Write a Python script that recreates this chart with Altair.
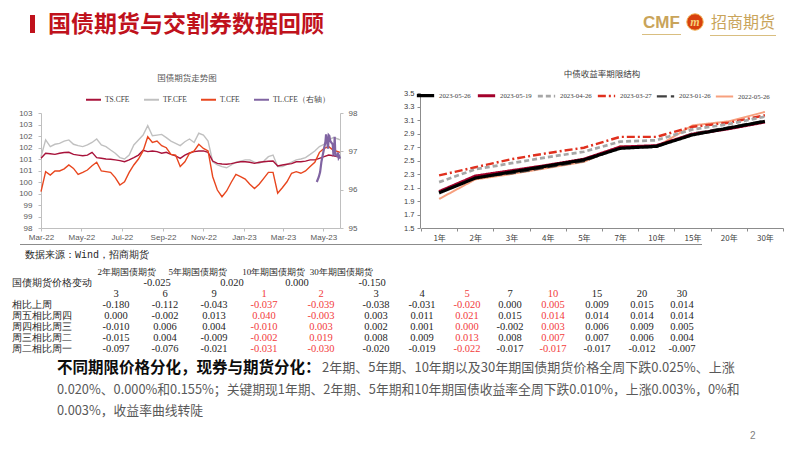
import altair as alt
import pandas as pd

W, H = 786, 435
CJK = "Noto Sans CJK SC"
SERIF = "Liberation Serif"

# ---------------- left chart: 国债期货走势图 ----------------
week_dates = list(pd.date_range("2022-03-01", periods=65, freq="7D").strftime("%Y-%m-%dT00:00:00")) + ["2023-05-26T00:00:00"]

ts_cfe = [101.03, 101.25, 101.23, 101.20, 101.25, 101.28, 101.29, 101.20, 101.17, 101.14,
          101.17, 101.29, 101.06, 101.03, 101.00, 100.99, 100.96, 100.93, 100.88, 100.96,
          101.06, 101.17, 101.38, 101.32, 101.35, 101.32, 101.25, 101.29, 101.20, 101.14,
          101.03, 101.17, 101.26, 101.32, 101.35, 101.35, 101.29, 100.91, 100.81, 100.78,
          100.77, 100.80, 100.84, 100.88, 100.88, 100.86, 100.81, 100.86, 100.88, 100.90,
          100.91, 100.70, 100.74, 100.77, 100.80, 100.88, 100.88, 100.91, 100.96, 100.96,
          101.03, 101.10, 101.17, 101.14, 101.09, 101.06]
tf_cfe = [101.10, 101.83, 101.54, 101.64, 101.68, 101.78, 101.83, 101.64, 101.58, 101.54,
          101.61, 101.72, 101.87, 101.61, 101.54, 101.39, 101.25, 101.06, 101.00, 101.17,
          101.61, 101.83, 102.04, 102.45, 102.01, 102.04, 102.07, 101.93, 101.78, 101.68,
          101.58, 101.75, 101.87, 101.72, 102.12, 102.04, 101.78, 100.88, 100.74, 100.67,
          100.62, 100.74, 100.86, 100.91, 100.96, 100.96, 100.86, 100.81, 100.91, 101.10,
          101.17, 100.67, 100.67, 100.77, 100.86, 100.96, 101.00, 101.06, 101.20, 101.35,
          101.54, 101.64, 101.83, 101.93, 101.87, 101.83]
t_cfe = [99.58, 100.45, 100.30, 100.48, 100.48, 100.57, 100.74, 100.59, 100.33, 100.42,
         100.52, 100.71, 100.86, 100.48, 100.45, 100.42, 100.19, 99.87, 100.01, 100.42,
         100.74, 101.00, 101.35, 101.97, 101.72, 101.78, 101.58, 101.49, 101.20, 101.17,
         100.67, 100.88, 101.25, 101.35, 101.64, 101.46, 101.35, 100.23, 99.65, 99.36,
         99.61, 99.99, 100.33, 100.23, 100.13, 99.90, 99.72, 99.90, 100.16, 100.42,
         100.42, 99.51, 99.75, 100.01, 100.38, 100.45, 100.38, 100.48, 100.67, 100.86,
         101.29, 101.46, 101.54, 101.38, 101.32, 101.29]
tl_dates = ["2023-04-21", "2023-04-24", "2023-04-26", "2023-04-28", "2023-05-04", "2023-05-05",
            "2023-05-08", "2023-05-09", "2023-05-10", "2023-05-11", "2023-05-12", "2023-05-15",
            "2023-05-16", "2023-05-17", "2023-05-18", "2023-05-19", "2023-05-22", "2023-05-23",
            "2023-05-24", "2023-05-25", "2023-05-26"]
tl_cfe = [96.20, 96.33, 96.46, 96.73, 97.25, 97.44, 97.07, 97.42, 97.40, 97.29, 97.25, 97.18,
          96.94, 96.97, 97.38, 96.90, 96.88, 96.97, 96.83, 96.86, 96.81]

left_names = ["TS.CFE", "TF.CFE", "T.CFE", "TL.CFE（右轴）"]
left_colors = ["#A8123A", "#C0C0C0", "#E8461E", "#8064A2"]

# ---------------- right chart: 中债收益率期限结构 ----------------
tenors = ["1年", "2年", "3年", "4年", "5年", "7年", "10年", "15年", "20年", "30年"]
curve_names = ["2023-05-26", "2023-05-19", "2023-04-26", "2023-03-27", "2023-01-26", "2022-05-26"]
curve_20230526 = [2.02, 2.24, 2.33, 2.42, 2.51, 2.68, 2.71, 2.88, 2.98, 3.08]
curve_20230519 = [2.04, 2.27, 2.35, 2.43, 2.52, 2.70, 2.72, 2.89, 2.97, 3.07]
curve_20230426 = [2.18, 2.37, 2.46, 2.55, 2.63, 2.78, 2.80, 2.96, 3.04, 3.15]
curve_20230327 = [2.28, 2.40, 2.52, 2.61, 2.69, 2.85, 2.85, 3.00, 3.06, 3.17]
curve_20230126 = [2.03, 2.25, 2.31, 2.40, 2.49, 2.69, 2.70, 2.90, 2.99, 3.09]
curve_20220526 = [1.93, 2.22, 2.30, 2.39, 2.48, 2.71, 2.70, 3.02, 3.08, 3.22]
curve_colors = ["#000000", "#A3002B", "#A6A6A6", "#E0301E", "#404040", "#F7A07E"]
curve_widths = [3.2, 2.0, 1.2, 1.6, 1.4, 1.2]
curve_dashes = [[1, 0], [1, 0], [5, 3], [8, 3, 2, 3], [10, 4], [1, 0]]

# ---------------- table ----------------
futures = ["2年期国债期货", "5年期国债期货", "10年期国债期货", "30年期国债期货"]
future_change = [-0.025, 0.020, 0.000, -0.150]
term_labels = ["3", "6", "9", "1", "2", "3", "4", "5", "7", "10", "15", "20", "30"]
red_columns = [3, 4, 7, 9]
row_names = ["国债期货价格变动", "相比上周", "周五相比周四", "周四相比周三", "周三相比周二", "周二相比周一"]
changes = [
    [-0.180, -0.112, -0.043, -0.037, -0.039, -0.038, -0.031, -0.020, 0.000, 0.005, 0.009, 0.015, 0.014],
    [0.000, -0.002, 0.013, 0.040, -0.003, 0.003, 0.011, 0.021, 0.015, 0.014, 0.014, 0.014, 0.014],
    [-0.010, 0.006, 0.004, -0.010, 0.003, 0.002, 0.001, 0.000, -0.002, 0.003, 0.006, 0.009, 0.005],
    [-0.015, 0.004, -0.009, -0.002, 0.019, 0.008, 0.009, 0.013, 0.008, 0.007, 0.007, 0.006, 0.004],
    [-0.097, -0.076, -0.021, -0.031, -0.030, -0.020, -0.019, -0.022, -0.017, -0.017, -0.017, -0.012, -0.007],
]
# layout of the table (pixel centres of the Excel columns / rows)
col_px = [108, 157, 206, 256, 313, 368, 414, 459, 502, 545, 589, 634, 674]
future_pos = [0.22, 1.67, 3.17, 4.37]
change_pos = [0.84, 2.36, 3.58, 4.93]

# ---------------- build frames ----------------
left_df = pd.concat([
    pd.DataFrame({"date": week_dates, "value": tf_cfe, "series": "TF.CFE"}),
    pd.DataFrame({"date": week_dates, "value": ts_cfe, "series": "TS.CFE"}),
    pd.DataFrame({"date": week_dates, "value": t_cfe, "series": "T.CFE"}),
], ignore_index=True)
tl_df = pd.DataFrame({"date": [d + "T00:00:00" for d in tl_dates], "value": tl_cfe, "series": "TL.CFE（右轴）"})

curves = [curve_20230526, curve_20230519, curve_20230426, curve_20230327, curve_20230126, curve_20220526]
right_df = pd.concat(
    [pd.DataFrame({"tenor": tenors, "yield": c, "curve": n}) for n, c in list(zip(curve_names, curves))[::-1]],
    ignore_index=True)

cells = []
for r, vals in enumerate(changes):
    for c, v in enumerate(vals):
        cells.append({"col": c, "row": r + 3, "text": f"{v:.3f}", "hl": "r" if c in red_columns else "n"})
for c, t in enumerate(term_labels):
    cells.append({"col": c, "row": 2, "text": t, "hl": "r" if c in red_columns else "n"})
for p, v in zip(change_pos, future_change):
    cells.append({"col": p, "row": 1, "text": f"{v:.3f}", "hl": "n"})
cells_df = pd.DataFrame(cells)
head_df = pd.DataFrame({"col": future_pos, "row": [0] * 4, "text": futures})
rowlab_df = pd.DataFrame({"row": [1, 3, 4, 5, 6, 7], "text": row_names})

one = pd.DataFrame({"k": [0]})


def txt(s, x, y, size, color="#262626", font=CJK, weight="normal", align="left", **kw):
    return alt.Chart(one).mark_text(text=s, fontSize=size, color=color, font=font, fontWeight=weight,
                                    align=align, baseline="middle", **kw).encode(x=alt.value(x), y=alt.value(y))


def hrule(x1, x2, y, color, w):
    return alt.Chart(one).mark_rule(color=color, strokeWidth=w).encode(
        x=alt.value(x1), x2=alt.value(x2), y=alt.value(y))


axis_common = dict(grid=False, title=None, labelFont="Liberation Sans", labelColor="#595959",
                   domainColor="#BFBFBF", tickColor="#BFBFBF", tickSize=3)

# ---- left chart ----
x_left_scale = alt.Scale(domain=[alt.DateTime(year=2022, month=3, date=1), alt.DateTime(year=2023, month=5, date=26)],
                         range=[33, 332], nice=False)
month_ticks = [alt.DateTime(year=y, month=m, date=1) for y, m in
               [(2022, 3), (2022, 5), (2022, 7), (2022, 9), (2022, 11), (2023, 1), (2023, 3), (2023, 5)]]
left_legend = alt.Legend(orient="none", legendX=77, legendY=83, direction="horizontal", columns=4,
                         symbolType="stroke", symbolSize=225, symbolStrokeWidth=2, labelFont="Liberation Serif",
                         labelFontSize=7.5, labelColor="#404040", columnPadding=10, labelOffset=3, title=None,
                         padding=0)
left_color = alt.Color("series:N", scale=alt.Scale(domain=left_names, range=left_colors), legend=left_legend)

left_main = alt.Chart(left_df).mark_line(strokeWidth=1.4).encode(
    x=alt.X("date:T", scale=x_left_scale,
            axis=alt.Axis(orient="bottom", offset=-(H - 220), values=month_ticks, format="%b-%y",
                          labelFontSize=8, labelPadding=2, labelFlush=False, **axis_common)),
    y=alt.Y("value:Q", scale=alt.Scale(domain=[98, 103], range=[220, 105], nice=False, zero=False),
            axis=alt.Axis(orient="left", offset=-33, values=[98 + 0.5 * k for k in range(11)], format=".0f",
                          labelFontSize=8, labelPadding=6, **axis_common)),
    color=left_color,
    detail="series:N",
)
tl_line = alt.Chart(tl_df).mark_line(strokeWidth=2.2).encode(
    x=alt.X("date:T", scale=x_left_scale, axis=None),
    y=alt.Y("value:Q", scale=alt.Scale(domain=[95, 98], range=[220, 105], nice=False, zero=False),
            axis=alt.Axis(orient="right", offset=-(W - 332), values=[95, 96, 97, 98], format=".0f",
                          labelFontSize=8, labelPadding=5, **axis_common)),
    color=left_color,
)
left_chart = alt.layer(left_main, tl_line).resolve_scale(x="independent", y="independent")

# ---- right chart ----
right_legend = alt.Legend(orient="none", legendX=407, legendY=77, direction="horizontal", columns=6,
                          symbolType="stroke", symbolSize=300, labelFont="Liberation Serif", labelFontSize=6.8,
                          labelColor="#404040", columnPadding=0, labelOffset=3, title=None, padding=0,
                          labelLimit=60)
right_chart = alt.Chart(right_df).mark_line().encode(
    x=alt.X("tenor:N", sort=tenors,
            scale=alt.Scale(domain=tenors, range=[413, 775], paddingInner=0, paddingOuter=0),
            axis=alt.Axis(orient="bottom", offset=-(H - 220), tickBand="extent", labelAngle=0,
                          grid=False, title=None, labelFont=CJK, labelFontSize=8, labelColor="#404040",
                          domainColor="#8C8C8C", tickColor="#8C8C8C", tickSize=3, labelPadding=3)),
    y=alt.Y("yield:Q", scale=alt.Scale(domain=[1.5, 3.5], range=[220, 85], nice=False, zero=False),
            axis=alt.Axis(orient="left", offset=-412, values=[1.5, 1.7, 1.9, 2.1, 2.3, 2.5, 2.7, 2.9, 3.1, 3.3, 3.5],
                          format=".1f", grid=False, title=None, labelFont="Liberation Sans", labelFontSize=7.5,
                          labelColor="#404040", domainColor="#8C8C8C", tickColor="#8C8C8C", tickSize=3,
                          labelPadding=3)),
    color=alt.Color("curve:N", scale=alt.Scale(domain=curve_names, range=curve_colors), legend=right_legend),
    strokeDash=alt.StrokeDash("curve:N", scale=alt.Scale(domain=curve_names, range=curve_dashes), legend=right_legend),
    strokeWidth=alt.StrokeWidth("curve:N", scale=alt.Scale(domain=curve_names, range=curve_widths), legend=right_legend),
)

# ---- table ----
tx = alt.Scale(domain=list(range(13)), range=col_px, nice=False, zero=False)
ty = alt.Scale(domain=[0, 7], range=[264.3, 341.3], nice=False, zero=False)
table_cells = alt.Chart(cells_df).mark_text(font=SERIF, fontSize=10.5, baseline="middle", align="center").encode(
    x=alt.X("col:Q", scale=tx, axis=None),
    y=alt.Y("row:Q", scale=ty, axis=None),
    text="text:N",
    color=alt.Color("hl:N", scale=alt.Scale(domain=["n", "r"], range=["#262626", "#F23C3C"]), legend=None),
)
table_head = alt.Chart(head_df).mark_text(font=SERIF, fontSize=9, baseline="middle", align="center",
                                          color="#262626").encode(
    x=alt.X("col:Q", scale=tx, axis=None),
    y=alt.Y("row:Q", scale=ty, axis=None),
    text="text:N",
)
table_rows = alt.Chart(rowlab_df).mark_text(font=SERIF, fontSize=10, baseline="middle", align="left",
                                            color="#262626").encode(
    x=alt.value(4),
    y=alt.Y("row:Q", scale=ty, axis=None),
    text="text:N",
)

layers = [
    # header
    alt.Chart(one).mark_rect(color="#C0121C").encode(x=alt.value(22), x2=alt.value(27), y=alt.value(7), y2=alt.value(25)),
    txt("国债期货与交割券数据回顾", 40, 17, 23, color="#C0121C", weight="bold"),
    txt("CMF", 635, 15, 17, color="#C9A45A", font="Liberation Sans", weight="bold"),
    alt.Chart(one).mark_circle(size=270, color="#D8400E", opacity=1, stroke="#F0B050", strokeWidth=1).encode(
        x=alt.value(687), y=alt.value(14)),
    txt("m", 687, 14, 12, color="#F6D27A", font="Liberation Serif", weight="bold", align="center", fontStyle="italic"),
    txt("招商期货", 703, 15, 16, color="#C9A45A"),
    hrule(634, 673, 26.5, "#D9BE80", 1.2),
    hrule(702, 768, 27.5, "#D9BE80", 1.2),
    # chart titles
    txt("国债期货走势图", 179, 70, 8.5, color="#595959", align="center"),
    txt("中债收益率期限结构", 594, 66, 8.5, color="#404040", align="center"),
    left_chart,
    right_chart,
    hrule(12, 694, 236.5, "#8C8C8C", 1.2),
    # table
    txt("数据来源：Wind，招商期货", 17, 247, 10, color="#262626", font="Liberation Mono"),
    table_head,
    table_cells,
    table_rows,
    # commentary
    txt("不同期限价格分化，现券与期货分化：", 49, 360, 15.5, color="#0D0D0D", weight="bold"),
    txt("2年期、5年期、10年期以及30年期国债期货价格全周下跌0.025%、上涨", 314, 360, 13, color="#595959"),
    txt("0.020%、0.000%和0.155%；关键期现1年期、2年期、5年期和10年期国债收益率全周下跌0.010%，上涨0.003%，0%和",
        49, 382, 12.8, color="#595959"),
    txt("0.003%，收益率曲线转陡", 49, 403, 12.8, color="#595959"),
    txt("2", 742, 428, 10, color="#7F7F7F", font="Liberation Sans"),
]

chart = alt.layer(*layers).resolve_scale(
    x="independent", y="independent", color="independent", strokeDash="independent", strokeWidth="independent"
).properties(
    width=W, height=H, padding=0, autosize=alt.AutoSizeParams(type="none"), background="white"
).configure_view(stroke=None)

chart.save("out.html", embed_options={"renderer": "svg", "actions": False})
